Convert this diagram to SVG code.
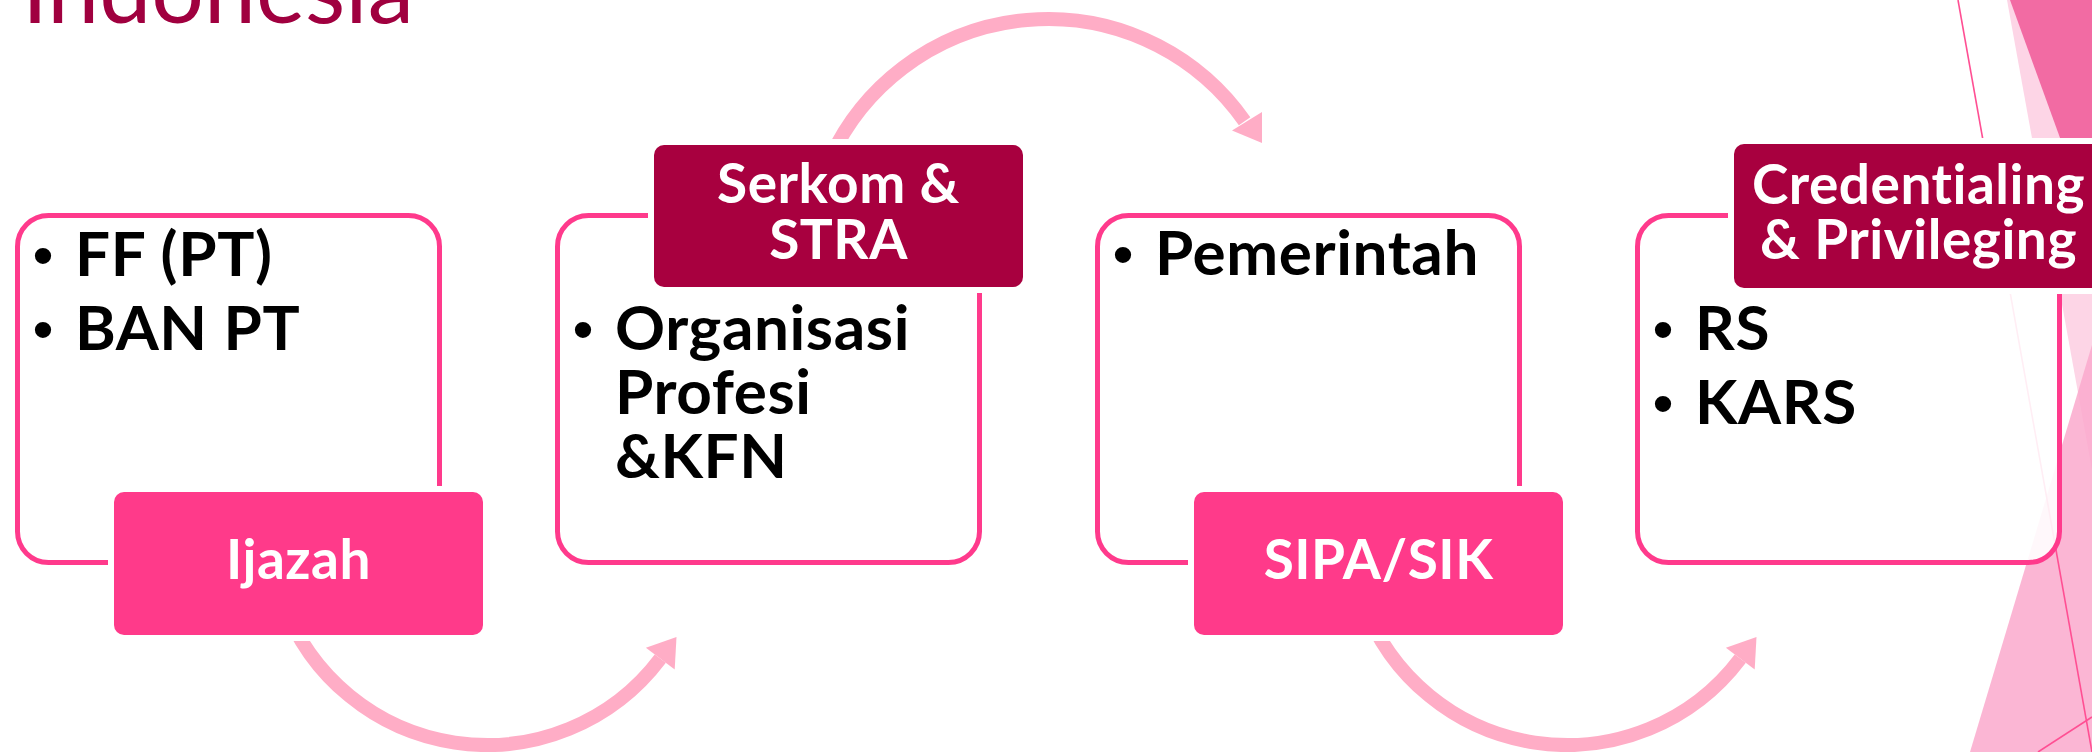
<svg xmlns="http://www.w3.org/2000/svg" width="2092" height="752" viewBox="0 0 2092 752">
<style>
.frame{fill:#fff;fill-opacity:.9;stroke:#FF3A8C;stroke-width:5}
.labA{fill:#FF3A8A;stroke:#fff;stroke-width:12;paint-order:stroke}
.labB{fill:#A8003F;stroke:#fff;stroke-width:12;paint-order:stroke}
.lt{font-family:Lato,'Open Sans',sans-serif;font-weight:700;font-size:55px;fill:#fff;text-anchor:middle;letter-spacing:0.5px}
.bt{font-family:Lato,'Open Sans',sans-serif;font-weight:700;font-size:62px;fill:#000;letter-spacing:0.6px}
.bul{font-family:'Liberation Sans',Arial,sans-serif;font-size:60px;fill:#000;text-anchor:middle}
.arc{fill:none;stroke:#FFADC6;stroke-width:14}
.head{fill:#FFADC6}
.thin{fill:none;stroke:#FF4F93;stroke-width:1.6}
</style>
<rect width="2092" height="752" fill="#fff"/>
<g id="background">
  <polygon points="2007,0 2092,0 2092,470" fill="#FDD5E6"/>
  <polygon points="2010,0 2092,0 2092,226" fill="#F26BA3"/>
  <polygon points="2092,345 2092,752 1970,752" fill="#FAA9CD" fill-opacity="0.85"/>
  <line class="thin" x1="1958" y1="0" x2="2092" y2="752"/>
  <line class="thin" x1="2038" y1="752" x2="2092" y2="717"/>
</g>
<text id="title" x="22" y="23" font-family="Lato,'Open Sans',sans-serif" font-size="93" fill="#A0003F">Indonesia</text>
<g id="connectors">
  <path class="arc" d="M283,602 A217,217 0 0 0 660.3,658.6"/>
  <polygon class="head" points="645.9,647.8 676.5,637 674.7,669.4"/>
  <path class="arc" d="M830.5,157.6 A240,240 0 0 1 1244.6,121.3"/>
  <polygon class="head" points="1232,130.5 1262,143 1262,112"/>
  <path class="arc" d="M1363,602 A217,217 0 0 0 1740.3,658.6"/>
  <polygon class="head" points="1725.9,647.8 1756.5,637 1754.7,669.4"/>
</g>
<g id="node-ijazah">
  <rect class="frame" x="17.5" y="215.5" width="422" height="347" rx="31"/>
  <rect class="labA" x="114" y="492" width="369" height="143" rx="10"/>
  <text class="lt" x="298.5" y="579">Ijazah</text>
  <text class="bul" x="43" y="276">•</text><text class="bt" x="75" y="276">FF (PT)</text>
  <text class="bul" x="43" y="350">•</text><text class="bt" x="75" y="350">BAN PT</text>
</g>
<g id="node-serkom">
  <rect class="frame" x="557.5" y="215.5" width="422" height="347" rx="31"/>
  <rect class="labB" x="654" y="145" width="369" height="142" rx="10"/>
  <text class="lt" x="838.5" y="203">Serkom &amp;</text>
  <text class="lt" x="838.5" y="259">STRA</text>
  <text class="bul" x="583" y="350">•</text><text class="bt" x="615" y="350">Organisasi</text>
  <text class="bt" x="615" y="414">Profesi</text>
  <text class="bt" x="615" y="478">&amp;KFN</text>
</g>
<g id="node-sipa">
  <rect class="frame" x="1097.5" y="215.5" width="422" height="347" rx="31"/>
  <rect class="labA" x="1194" y="492" width="369" height="143" rx="10"/>
  <text class="lt" x="1378.5" y="579">SIPA/SIK</text>
  <text class="bul" x="1123" y="275">•</text><text class="bt" x="1155" y="275">Pemerintah</text>
</g>
<g id="node-credentialing">
  <rect class="frame" x="1637.5" y="215.5" width="422" height="347" rx="31"/>
  <rect class="labB" x="1734" y="144" width="369" height="144" rx="10"/>
  <text class="lt" x="1918.5" y="204">Credentialing</text>
  <text class="lt" x="1918.5" y="259">&amp; Privileging</text>
  <text class="bul" x="1663" y="350">•</text><text class="bt" x="1695" y="350">RS</text>
  <text class="bul" x="1663" y="424">•</text><text class="bt" x="1695" y="424">KARS</text>
</g>
</svg>
